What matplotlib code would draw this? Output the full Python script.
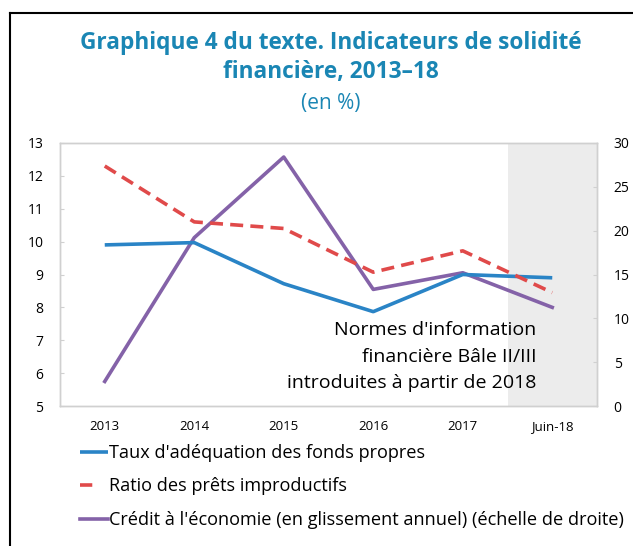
import matplotlib
matplotlib.use("Agg")
import matplotlib.pyplot as plt
from matplotlib.lines import Line2D

plt.rcParams['font.family'] = ['Open Sans', 'DejaVu Sans']

categories = ['2013', '2014', '2015', '2016', '2017', 'Juin-18']
capital = [9.9, 9.97, 8.72, 7.87, 9.0, 8.9]
npl = [12.3, 10.6, 10.4, 9.07, 9.72, 8.45]
credit = [2.8, 19.2, 28.4, 13.3, 15.2, 11.25]

labels = ["Taux d'adéquation des fonds propres",
          "Ratio des prêts improductifs",
          "Crédit à l'économie (en glissement annuel) (échelle de droite)"]

blue = '#2a84c6'
red = '#e04a4a'
purple = '#8462a8'
title_col = '#1a86b4'

fig = plt.figure(figsize=(6.33, 5.46), dpi=100)

# cadre noir (coupé à droite et en bas)
fig.add_artist(Line2D([10/633, 10/633], [0, 1 - 13/546], color='black', lw=1.5))
fig.add_artist(Line2D([10/633, 1], [1 - 13/546, 1 - 13/546], color='black', lw=1.5))

fig.text(331/633, 1 - 43/546, "Graphique 4 du texte. Indicateurs de solidité",
         ha='center', va='center', fontsize=16.3, fontweight='bold', color=title_col)
fig.text(331/633, 1 - 72/546, "financière, 2013–18",
         ha='center', va='center', fontsize=16.3, fontweight='bold', color=title_col)
fig.text(331/633, 1 - 103/546, "(en %)",
         ha='center', va='center', fontsize=15, color=title_col)

ax = fig.add_axes([60/633, 1 - 406/546, (597 - 60)/633, (406 - 143)/546])
ax2 = ax.twinx()

x = list(range(len(categories)))
ax2.axvspan(4.5, 5.5, color='#ececec', lw=0, zorder=0)

l1, = ax.plot(x, capital, color=blue, lw=2.6, solid_capstyle='butt', zorder=3)
l2, = ax.plot(x, npl, color=red, lw=2.6, dashes=(3.6, 2.0), zorder=3)
l3, = ax2.plot(x, credit, color=purple, lw=2.6, zorder=3)

ax.set_xlim(-0.5, 5.5)
ax.set_ylim(5, 13)
ax2.set_ylim(0, 30)
ax.set_yticks(range(5, 14))
ax2.set_yticks(range(0, 31, 5))
ax.set_xticks(x)
ax.set_xticklabels(categories)

for a in (ax, ax2):
    for s in a.spines.values():
        s.set_color('#d0d0d0')
        s.set_linewidth(1)
    a.tick_params(axis='y', direction='in', length=3, color='#d0d0d0',
                  labelsize=10, pad=12)
    a.tick_params(axis='x', length=0, labelsize=9.5, pad=10)

ax.text(4.82, 6.5, "Normes d'information\nfinancière Bâle II/III\nintroduites à partir de 2018",
        ha='right', va='center', multialignment='right', fontsize=14,
        linespacing=1.6, zorder=5)

ax.set_zorder(ax2.get_zorder() + 1)
ax.patch.set_visible(False)

# dans la légende, le tiret rouge n'apparaît qu'une fois
red_handle = Line2D([], [], color=red, lw=2.6, dashes=(3.4, 20))

fig.legend([l1, red_handle, l3], labels, loc='upper left',
           bbox_to_anchor=(80/633, 1 - 444/546), frameon=False,
           fontsize=13.1, handlelength=1.55, handletextpad=0.05,
           labelspacing=0.85, borderaxespad=0, borderpad=0)

fig.savefig('out.png', dpi=100)
